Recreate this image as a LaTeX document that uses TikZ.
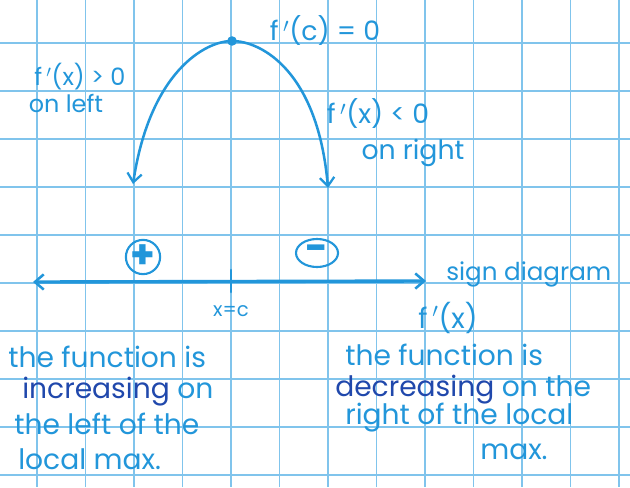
\documentclass[tikz,border=0pt]{standalone}
\usepackage{fontspec}
\setmainfont{Poppins}
\usetikzlibrary{arrows.meta,positioning,shapes.geometric}
\definecolor{inkblue}{RGB}{34,150,218}
\definecolor{inkdark}{RGB}{32,72,172}
\definecolor{gridblue}{RGB}{128,196,236}
\tikzset{
  gridline/.style={draw=gridblue, line width=1.3pt},
  ink/.style={draw=inkblue, line width=1.8pt, line cap=round},
  barb/.style={ink, -{Straight Barb[length=2.2mm, width=3.6mm, line width=1.6pt]}},
  axisline/.style={ink, line width=2.4pt,
                   {Straight Barb[length=2.2mm, width=3.8mm, line width=1.8pt]}-{Straight Barb[length=2.2mm, width=3.8mm, line width=1.8pt]}},
  note/.style={text=inkblue, font=\fontsize{18}{20}\selectfont, inner sep=0pt},
  bignote/.style={note, font=\fontsize{20}{22}\selectfont, anchor=west},
  signmark/.style={draw=inkblue, line width=1.5pt, circle, inner sep=0pt,
                   minimum size=8mm, text=inkblue, font=\fontsize{28}{28}\selectfont\bfseries},
  dot/.style={circle, fill=inkblue, inner sep=0pt, minimum size=2.4mm},
}

\begin{document}
\begin{tikzpicture}[x=0.025cm, y=-0.025cm]
\useasboundingbox[fill=white] (0,0) rectangle (630,487);

% ================= grid paper =================
\foreach \gx in {0,...,12}
  \draw[gridline] ({37+48.5*\gx},0) -- ({37+48.5*\gx},487);
\foreach \gy in {0,...,9}
  \draw[gridline] (0,{43+48*\gy}) -- (630,{43+48*\gy});

% ================= the local max =================
\node[dot] (peak) at (232,41) {};
\node[note, font=\fontsize{19}{21}\selectfont] (fc) at (325,31) {f\,$'$(c) = 0};
\coordinate (lefttip) at (133,184);
\coordinate (righttip) at (328,188);
\draw[barb] (peak.center) .. controls (205,41) and (150,72) .. (lefttip);
\draw[barb] (peak.center) .. controls (262,41) and (318,72) .. (righttip);

\node[note, font=\fontsize{17}{19}\selectfont] (fpos) at (80,77) {f\,$'$(x) > 0};
\node[note, font=\fontsize{17}{19}\selectfont] (onleft) at (66,103) {on left};
\node[note, font=\fontsize{19}{21}\selectfont] (fneg) at (378,114) {f\,$'$(x) < 0};
\node[note, font=\fontsize{19}{21}\selectfont] (onright) at (413,153) {on right};

% ================= sign diagram =================
\coordinate (axl) at (33,282);
\coordinate (axr) at (426,281);
\draw[axisline] (axl) -- (axr);
\coordinate (xc) at (231,281);
\draw[ink] (xc) ++(0,-11) -- ++(0,22);
\node[note, font=\fontsize{14}{16}\selectfont, below=6mm of xc] (xclabel) {x=c};

\node[signmark] (plus) at (143,257) {+};
\node[signmark, ellipse, minimum width=10.5mm, minimum height=7mm] (minus) at (317,253) {-};

\node[note, font=\fontsize{17.5}{20}\selectfont, anchor=west] (sd) at (446,274) {sign diagram};
\node[note, font=\fontsize{20}{22}\selectfont] (fx) at (448,318) {f\,$'$(x)};

% ================= conclusions =================
\node[bignote] (l1) at (8,357) {the function is};
\node[bignote] (l2) at (22,392) {\textcolor{inkdark}{increasing} on};
\node[bignote] (l3) at (14,424) {the left of the};
\node[bignote] (l4) at (18,459) {local max.};

\node[bignote] (r1) at (345,355) {the function is};
\node[bignote] (r2) at (335,390) {\textcolor{inkdark}{decreasing} on the};
\node[bignote] (r3) at (345,418) {right of the local};
\node[bignote] (r4) at (480,452) {max.};

\end{tikzpicture}
\end{document}
